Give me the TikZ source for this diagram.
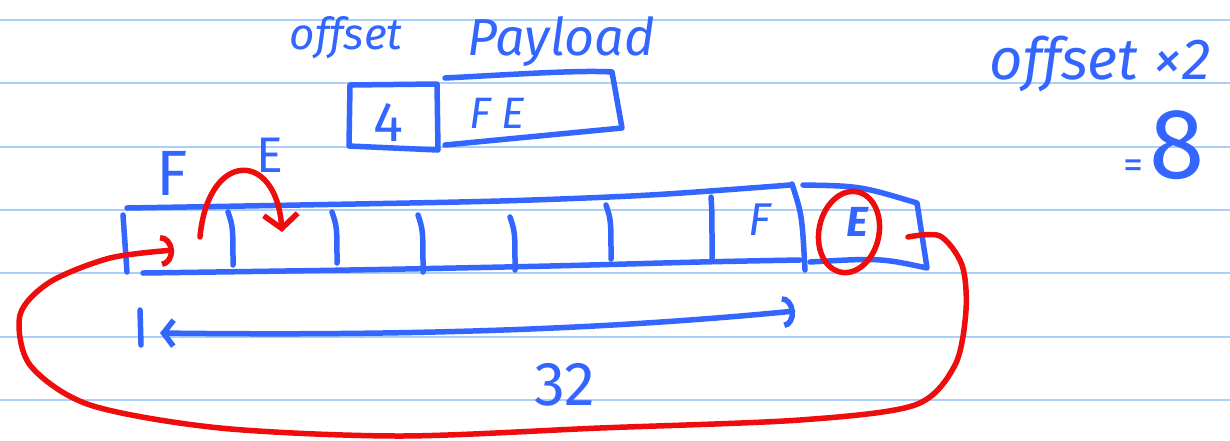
\documentclass[tikz,border=0pt]{standalone}
\usepackage{fontspec}
\setmainfont{Fira Sans}
\usetikzlibrary{arrows.meta}

\definecolor{inkblue}{RGB}{51,102,255}
\definecolor{inkred}{RGB}{238,12,12}
\definecolor{ruleblue}{RGB}{168,208,250}
\newcommand{\fsz}[1]{\fontsize{#1}{#1}\selectfont}

\begin{document}
\begin{tikzpicture}[x=1pt, y=-1pt,
    blueink/.style={draw=inkblue, line width=5.5pt, line cap=round, line join=round},
    redink/.style={draw=inkred, line width=5.5pt, line cap=round, line join=round},
    hand/.style={text=inkblue, inner sep=0pt},
    rule/.style={draw=ruleblue, line width=2pt}]
    \fill[white] (0,0) rectangle (1230,440);
    \useasboundingbox (0,0) rectangle (1230,440);
    % ruled paper
    \foreach \y in {20,83,147,210,273,337,400}
        \draw[rule] (0,\y) -- (1230,\y);

    % header: offset and payload
    \node[hand, font=\itshape\fsz{44}] (offlbl) at (346,38) {offset};
    \node[hand, font=\itshape\fsz{52}] (paylbl) at (561,42) {Payload};
    \draw[blueink] (350,85) -- (437,84) -- (438,150) -- (349,146) -- cycle;
    \node[hand, font=\fsz{56}] (four) at (388,122) {4};
    \draw[blueink] (445,78) .. controls (520,74) and (580,70) .. (612,72)
        -- (622,128) -- (445,145);
    \node[hand, font=\itshape\fsz{44}] (fe) at (497,113) {F E};

    % result
    \node[hand, font=\itshape\fsz{58}] (times) at (1100,64) {offset ×2};
    \node[hand, anchor=east] (eight) at (1205,145) {\fsz{40}=\,\fsz{100}8};

    % buffer
    \node[hand, font=\fsz{64}] (bigf) at (172,173) {F};
    \node[hand, font=\fsz{50}] (bige) at (270,155) {E};
    \draw[blueink] plot[smooth] coordinates {(127,208) (300,205) (500,201) (650,195) (790,185)};
    \draw[blueink] plot[smooth] coordinates {(143,273) (350,270) (550,266) (700,262) (800,260)};
    \draw[blueink] (123,215) -- (127,272);
    \foreach \xa/\ya/\xb/\yb in {228/212/233/265, 332/212/337/263, 418/215/423/272,
                                 510/217/515/270, 606/205/611/259, 711/197/712/258}
        \draw[blueink] (\xa,\ya) .. controls (\xb,\ya+15) .. (\xb,\yb);
    \draw[blueink] (792,184) .. controls (802,215) .. (805,270);
    \draw[blueink] (803,185) .. controls (860,186) .. (917,203) -- (927,268)
        .. controls (880,258) .. (810,262);
    \node[hand, font=\itshape\fsz{46}] (fcell) at (760,220) {F};
    \node[hand, font=\bfseries\itshape\fsz{42}] (ecell) at (857,222) {E};
    \draw[redink, rotate around={-12:(849,232)}] (849,232) ellipse (30pt and 41pt);

    % red jumps
    \draw[redink, -{Straight Barb[length=14pt,width=34pt]}]
        (200,237) .. controls (208,150) and (276,150) .. (282,232);
    \draw[redink, -{Arc Barb[length=13pt,width=32pt]}]
        plot[smooth] coordinates {(908,237) (940,236) (962,265) (966,310) (955,365)
        (915,405) (800,420) (600,428) (400,436) (220,428) (90,405) (30,365)
        (20,315) (50,282) (110,258) (174,250)};

    % length
    \draw[blueink] (140,310) -- (141,345);
    \draw[blueink, {Straight Barb[length=10pt,width=26pt]}-{Arc Barb[length=12pt,width=32pt]}]
        (160,333) .. controls (400,336) and (600,330) .. (795,311);
    \node[hand, font=\fsz{62}] (len) at (565,385) {32};
\end{tikzpicture}
\end{document}
